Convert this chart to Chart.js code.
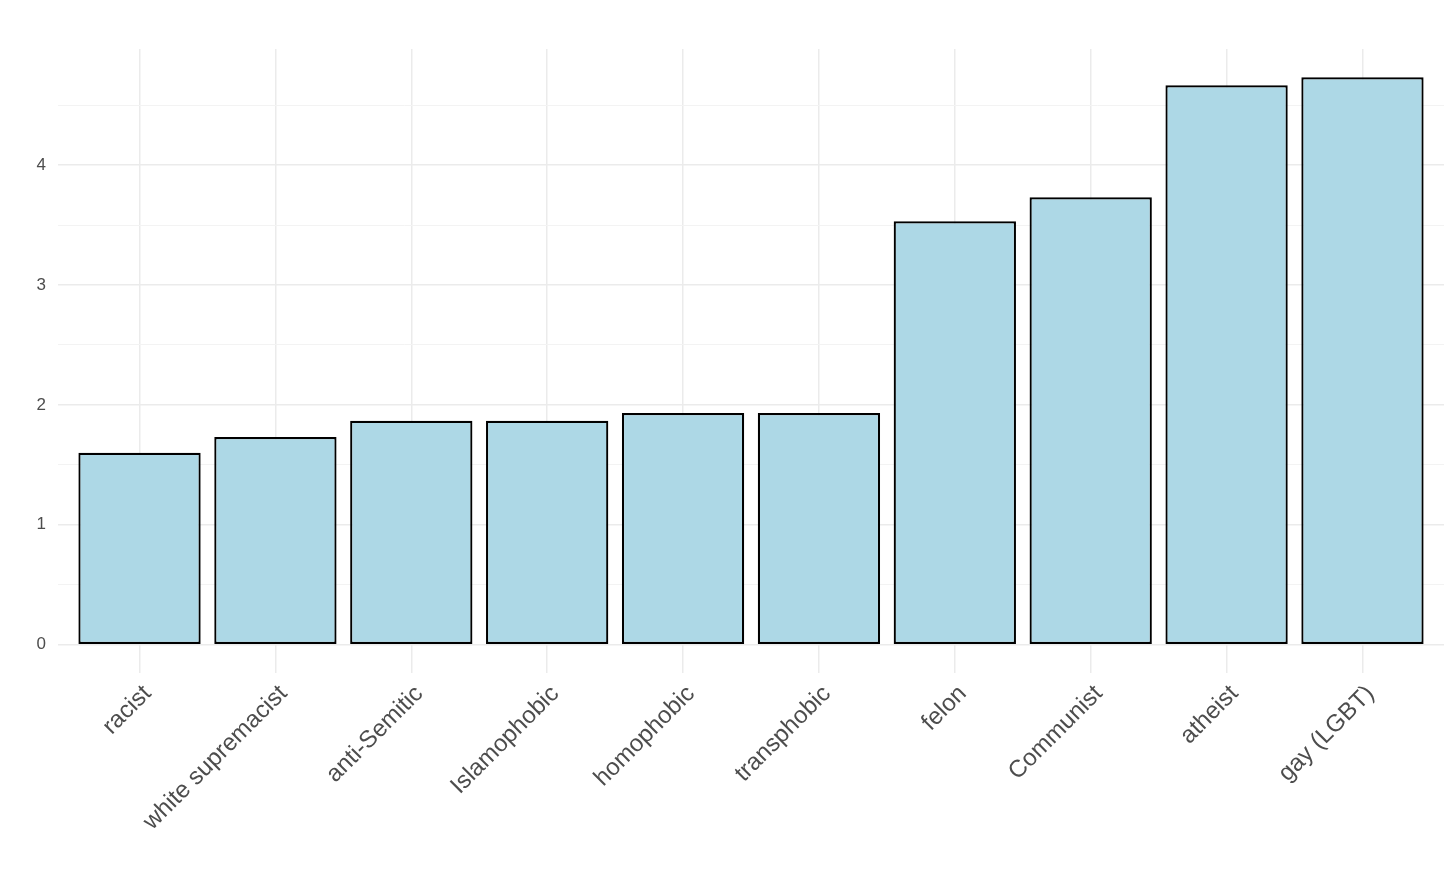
<!DOCTYPE html>
<html>
<head>
<meta charset="utf-8">
<script src="https://cdn.jsdelivr.net/npm/chart.js@4"></script>
<style>
  html, body { margin: 0; padding: 0; background: #fff; }
  #wrap { width: 1456px; height: 874px; }
</style>
</head>
<body>
<div id="wrap"><canvas id="chart" width="1456" height="874"></canvas></div>
<script>
// categories and values
const categories = ['racist', 'white supremacist', 'anti-Semitic', 'Islamophobic', 'homophobic',
  'transphobic', 'felon', 'Communist', 'atheist', 'gay (LGBT)'];
const values = [1.6, 1.733, 1.867, 1.867, 1.933, 1.933, 3.533, 3.733, 4.667, 4.733];
const yTicks = [0, 0.5, 1, 1.5, 2, 2.5, 3, 3.5, 4, 4.5];

const gridMajor = '#EBEBEB';
const gridMinor = '#F3F3F3';
const textColor = '#4D4D4D';

// ggplot style expansion: 0.6 units on discrete axis, 5% on continuous
const yMax = Math.max(...values);
const yPad = yMax * 0.05;

const ctx = document.getElementById('chart').getContext('2d');
new Chart(ctx, {
  type: 'bar',
  data: {
    datasets: [{
      data: categories.map((c, i) => ({ x: i, y: values[i] })),
      backgroundColor: '#ADD8E6',
      borderColor: '#000000',
      borderWidth: 2.2,
      borderSkipped: false,
      barPercentage: 0.9,
      categoryPercentage: 1
    }]
  },
  options: {
    responsive: false,
    animation: false,
    layout: { padding: { top: 49, right: 12, left: 0, bottom: 0 } },
    plugins: { legend: { display: false }, tooltip: { enabled: false } },
    scales: {
      x: {
        type: 'linear',
        min: -0.6,
        max: categories.length - 1 + 0.6,
        offset: false,
        border: { display: false },
        grid: { color: gridMajor, lineWidth: 1.5, drawTicks: false, offset: false },
        afterBuildTicks: s => { s.ticks = categories.map((c, i) => ({ value: i })); },
        afterFit: s => { s.height = 201; },
        ticks: {
          autoSkip: false,
          minRotation: 45,
          maxRotation: 45,
          padding: 0,
          labelOffset: 8,   // ggplot hjust=1 puts the label end a bit right of the tick
          color: textColor,
          font: { family: 'Liberation Sans', size: 24, lineHeight: 2.0 },
          callback: v => categories[v]
        }
      },
      y: {
        min: -yPad,
        max: yMax + yPad,
        border: { display: false },
        grid: {
          drawTicks: false,
          color: c => (c.tick && c.tick.value % 1 === 0) ? gridMajor : gridMinor,
          lineWidth: c => (c.tick && c.tick.value % 1 === 0) ? 1.5 : 1
        },
        afterBuildTicks: s => { s.ticks = yTicks.map(v => ({ value: v })); },
        afterFit: s => { s.width = 58; },
        ticks: {
          padding: 12,
          color: textColor,
          font: { family: 'Liberation Sans', size: 17 },
          callback: v => (v % 1 === 0 ? String(v) : '')
        }
      }
    }
  }
});
</script>
</body>
</html>
